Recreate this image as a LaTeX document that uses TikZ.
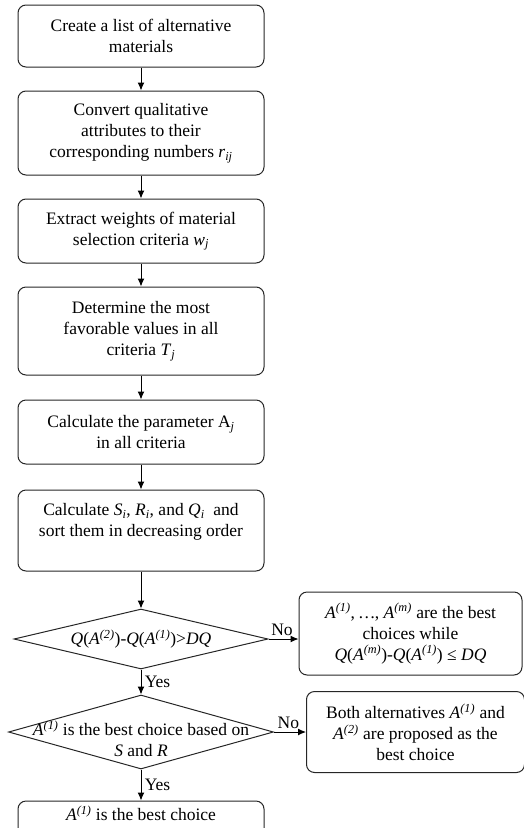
\documentclass[tikz,border=0pt]{standalone}
\usepackage{fontspec}
\setmainfont{Liberation Serif}
\usetikzlibrary{shapes.geometric,positioning,arrows.meta}
\newcommand{\Aof}[1]{\textit{A}\textsuperscript{\textit{(#1)}}}
\newcommand{\sub}[2]{\textit{#1}\textsubscript{\textit{#2}}}

\begin{document}
\begin{tikzpicture}[x=1pt, y=-1pt, >={Latex[length=8pt,width=7pt]}, font=\fontsize{17.5}{21}\selectfont,
  box/.style={rectangle, rounded corners=8pt, draw=black!85, line width=1pt, align=center, minimum width=246pt, inner sep=4pt},
  side/.style={box, minimum width=220pt},
  dec/.style={diamond, draw=black!85, line width=1pt, inner sep=0pt},
  arr/.style={->, line width=1pt}]
  \useasboundingbox (0,0) rectangle (523,828);
  \node[box, minimum height=62pt] (list) at (141,36) {Create a list of alternative\\ materials};
  \node[box, minimum height=84pt, below=23pt of list] (conv) {Convert qualitative\\ attributes to their\\ corresponding numbers \sub{r}{ij}};
  \node[box, minimum height=64pt, below=23pt of conv] (wgt) {Extract weights of material\\ selection criteria \sub{w}{j}};
  \node[box, minimum height=88pt, below=23pt of wgt] (fav) {Determine the most\\ favorable values in all\\ criteria \sub{T}{j}};
  \node[box, minimum height=64pt, below=24pt of fav] (par) {Calculate the parameter A\textsubscript{\textit{j}}\\ in all criteria};
  \node[box, minimum height=81pt, below=25pt of par] (sort) {Calculate \sub{S}{i}, \sub{R}{i}, and \sub{Q}{i}\ \ and\\ sort them in decreasing order\\ ~};
  \node[dec, minimum width=254pt, minimum height=60pt, below=37pt of sort,
    label={center:\textit{Q}(\Aof{2})-\textit{Q}(\Aof{1})>\textit{DQ}}] (dq) {};
  \node[dec, minimum width=265pt, minimum height=74pt, below=25pt of dq,
    label={[align=center, yshift=-7pt]center:\Aof{1} is the best choice based on\\ \textit{S} and \textit{R}}] (sr) {};
  \node[box, minimum height=44pt, text depth=20pt, below=31pt of sr] (best) {\Aof{1} is the best choice};
  \node[side, minimum width=223pt, minimum height=83pt, right=30pt of dq, yshift=5.5pt] (many) {\Aof{1}, \textit{…}, \Aof{m} are the best\\ choices while\\ \textit{Q}(\Aof{m})-\textit{Q}(\Aof{1}) ≤ \textit{DQ}};
  \node[side, minimum width=218pt, minimum height=81pt, right=32pt of sr] (both) {Both alternatives \Aof{1} and\\ \Aof{2} are proposed as the\\ best choice};
  % main column
  \draw[arr] (list) -- (conv);
  \draw[arr] (conv) -- (wgt);
  \draw[arr] (wgt) -- (fav);
  \draw[arr] (fav) -- (par);
  \draw[arr] (par) -- (sort);
  \draw[arr] (sort) -- (dq);
  \draw[arr] (dq) -- node[right]{Yes} (sr);
  \draw[arr] (sr) -- node[right]{Yes} (best);
  % side branches
  \draw[arr] (dq.east) -- node[above, pos=0.45]{No} (dq.east -| many.west);
  \draw[arr] (sr.east) -- node[above, pos=0.45]{No} (sr.east -| both.west);
\end{tikzpicture}
\end{document}
